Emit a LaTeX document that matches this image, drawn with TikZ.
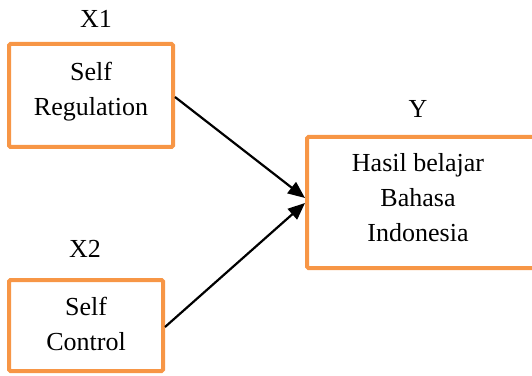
\documentclass[tikz,border=0pt]{standalone}
\usepackage{fontspec}
\setmainfont{Liberation Serif}
\usetikzlibrary{arrows.meta}
\definecolor{boxorange}{HTML}{F79646}
\begin{document}
\begin{tikzpicture}[x=1pt,y=1pt,
  box/.style={draw=boxorange, line width=4pt, rounded corners=1.5pt, rectangle, inner sep=0pt},
  txt/.style={align=center, font=\fontsize{26}{35}\selectfont, inner sep=0pt},
  lbl/.style={font=\fontsize{26}{35}\selectfont, inner sep=0pt},
  arr/.style={line width=2.2pt, -{Triangle[length=17pt,width=14pt]}}]
\useasboundingbox (0,0) rectangle (532,375);
% boxes
\node[box, minimum width=164pt, minimum height=103pt] (x1) at (91,279.5) {};
\node[box, minimum width=154pt, minimum height=91pt] (x2) at (86,49.5) {};
\node[box, minimum width=229pt, minimum height=131pt] (y) at (421.5,172.5) {};
% texts
\node[txt] (x1txt) at (91,283.1) {Self\\Regulation};
\node[txt] (x2txt) at (86,51.4) {Self\\Control};
\node[txt] (ytxt) at (418,177.2) {Hasil belajar\\Bahasa\\Indonesia};
% labels
\node[lbl] (x1lbl) at (96,356.5) {X1};
\node[lbl] (x2lbl) at (85,126) {X2};
\node[lbl] (ylbl) at (418,266.5) {Y};
% arrows
\draw[arr] ([yshift=-1.5pt]x1.east) -- ([yshift=4.5pt]y.west);
\draw[arr] ([yshift=-1.5pt]x2.east) -- ([yshift=-0.5pt]y.west);
\end{tikzpicture}
\end{document}
